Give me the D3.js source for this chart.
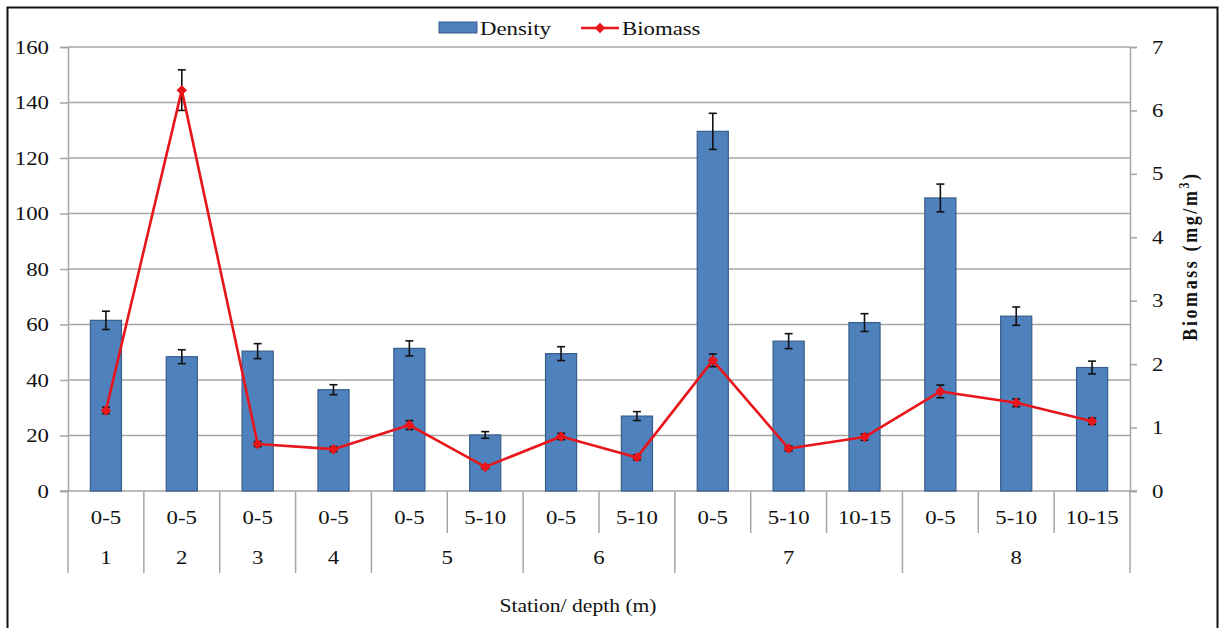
<!DOCTYPE html>
<html>
<head>
<meta charset="utf-8">
<script src="https://cdn.jsdelivr.net/npm/d3@7"></script>
<style>
  html, body { margin: 0; padding: 0; background: #fff; }
  #chart text { font-family: "Liberation Serif", Tinos, "Times New Roman", Times, serif !important; fill: #111; }
</style>
</head>
<body>
<svg id="chart" width="1219" height="628"></svg>
<script>
// Zooplankton density and biomass by station and depth layer
const stations = ["1", "2", "3", "4", "5", "5", "6", "6", "7", "7", "7", "8", "8", "8"];
const depths   = ["0-5", "0-5", "0-5", "0-5", "0-5", "5-10", "0-5", "5-10", "0-5", "5-10", "10-15", "0-5", "5-10", "10-15"];
const density    = [61.5, 48.4, 50.4, 36.5, 51.4, 20.2, 49.5, 27.0, 129.6, 54.0, 60.7, 105.6, 63.0, 44.5];
const densityErr = [3.3, 2.5, 2.7, 1.8, 2.7, 1.2, 2.5, 1.6, 6.5, 2.7, 3.2, 5.0, 3.3, 2.3];
const biomass    = [1.27, 6.32, 0.74, 0.66, 1.04, 0.38, 0.86, 0.53, 2.06, 0.67, 0.85, 1.57, 1.39, 1.10];
const biomassErr = [0.05, 0.32, 0.04, 0.04, 0.07, 0.03, 0.05, 0.04, 0.10, 0.04, 0.05, 0.10, 0.06, 0.05];
const leftTicks  = [0, 20, 40, 60, 80, 100, 120, 140, 160];
const rightTicks = [0, 1, 2, 3, 4, 5, 6, 7];

const svg = d3.select("#chart");
const serif = "'Liberation Serif', Tinos, 'Times New Roman', Times, serif";
const sx = 1.2;   // glyphs are drawn slightly wide
const fs = 19;
const plot = { left: 68, right: 1130, top: 47, bottom: 491 };

const idx = d3.range(density.length);
const x = d3.scaleBand().domain(idx).range([plot.left, plot.right]).paddingInner(0).paddingOuter(0);
const yL = d3.scaleLinear().domain([0, 160]).range([plot.bottom, plot.top]);
const yR = d3.scaleLinear().domain([0, 7]).range([plot.bottom, plot.top]);

const gridColor = "#a6a6a6";
const barFill = "#4f81bd";
const barStroke = "#385d8a";
const red = "#e8151b";

// place a wide-set label at (px, py)
function label(parent, px, py, str, anchor = "start", size = fs) {
  return parent.append("text")
    .attr("transform", `translate(${px},${py}) scale(${sx},1)`)
    .attr("text-anchor", anchor).attr("font-size", size).attr("font-family", serif)
    .text(str);
}

// outer frame
svg.append("path")
  .attr("d", "M7.5,640 V7.5 H1217.5 V640")
  .attr("fill", "none").attr("stroke", "#111").attr("stroke-width", 2);

// horizontal gridlines
svg.append("g").selectAll("line").data(leftTicks.filter(d => d > 0)).join("line")
  .attr("x1", plot.left).attr("x2", plot.right)
  .attr("y1", d => yL(d)).attr("y2", d => yL(d))
  .attr("stroke", gridColor).attr("stroke-width", 1.5);

// left axis
const axL = svg.append("g").attr("transform", `translate(${plot.left},0)`)
  .call(d3.axisLeft(yL).tickValues(leftTicks).tickSize(8).tickPadding(19));
axL.attr("font-family", serif);
axL.select(".domain").attr("stroke", gridColor).attr("stroke-width", 1.5);
axL.selectAll(".tick line").attr("stroke", gridColor).attr("stroke-width", 1.5);
axL.selectAll(".tick text").attr("font-size", fs).attr("fill", "#111")
  .attr("x", -19 / sx).attr("transform", `scale(${sx},1)`);

// right axis
const axR = svg.append("g").attr("transform", `translate(${plot.right},0)`)
  .call(d3.axisRight(yR).tickValues(rightTicks).tickFormat(d3.format("d")).tickSize(7).tickPadding(21));
axR.attr("font-family", serif);
axR.select(".domain").attr("stroke", gridColor).attr("stroke-width", 1.5);
axR.selectAll(".tick line").attr("stroke", gridColor).attr("stroke-width", 1.5);
axR.selectAll(".tick text").attr("font-size", fs).attr("fill", "#111")
  .attr("x", 22 / sx).attr("transform", `scale(${sx},1)`);

// category axis: baseline, depth separators and station separators
svg.append("line")
  .attr("x1", plot.left - 8).attr("x2", plot.right + 7)
  .attr("y1", plot.bottom).attr("y2", plot.bottom)
  .attr("stroke", gridColor).attr("stroke-width", 1.5);

const boundaries = d3.range(density.length + 1);
const boundaryX = i => i < density.length ? x(i) : x(density.length - 1) + x.bandwidth();
const isStationEdge = i => i === 0 || i === density.length || stations[i] !== stations[i - 1];
svg.append("g").selectAll("line").data(boundaries).join("line")
  .attr("x1", i => boundaryX(i)).attr("x2", i => boundaryX(i))
  .attr("y1", plot.bottom)
  .attr("y2", i => isStationEdge(i) ? 573 : 533)
  .attr("stroke", gridColor).attr("stroke-width", 1.5);

const texts = svg.append("g");

// depth labels
idx.forEach(i => label(texts, x(i) + x.bandwidth() / 2, 524, depths[i], "middle"));

// station labels centred over their depth groups
d3.groups(idx, i => stations[i]).forEach(([s, g]) => {
  label(texts, (x(g[0]) + x(g[g.length - 1]) + x.bandwidth()) / 2, 564, s, "middle");
});

// axis titles
label(texts, 578, 612, "Station/  depth (m)", "middle", 18);

const rt = texts.append("text")
  .attr("transform", "translate(1197,256) rotate(-90) scale(1,1.2)")
  .attr("text-anchor", "middle").attr("font-size", 18).attr("font-weight", "bold")
  .attr("font-family", serif).attr("letter-spacing", 2.6);
rt.append("tspan").text("Biomass (mg/m");
rt.append("tspan").attr("baseline-shift", "super").attr("font-size", 12).text("3");
rt.append("tspan").text(")");

// density bars
const barW = x.bandwidth() * 0.41;
svg.append("g").selectAll("rect").data(idx).join("rect")
  .attr("x", i => x(i) + (x.bandwidth() - barW) / 2)
  .attr("y", i => yL(density[i]))
  .attr("width", barW)
  .attr("height", i => yL(0) - yL(density[i]))
  .attr("fill", barFill).attr("stroke", barStroke).attr("stroke-width", 1.2);

// error bars helper
function errorBars(vals, errs, scale) {
  const g = svg.append("g").attr("stroke", "#111").attr("stroke-width", 1.6);
  idx.forEach(i => {
    const cx = x(i) + x.bandwidth() / 2;
    const y1 = scale(vals[i] + errs[i]), y2 = scale(vals[i] - errs[i]);
    g.append("line").attr("x1", cx).attr("x2", cx).attr("y1", y1).attr("y2", y2);
    g.append("line").attr("x1", cx - 4).attr("x2", cx + 4).attr("y1", y1).attr("y2", y1);
    g.append("line").attr("x1", cx - 4).attr("x2", cx + 4).attr("y1", y2).attr("y2", y2);
  });
}
errorBars(density, densityErr, yL);
errorBars(biomass, biomassErr, yR);

// biomass line with diamond markers
const line = d3.line().x(i => x(i) + x.bandwidth() / 2).y(i => yR(biomass[i]));
svg.append("path").datum(idx).attr("d", line)
  .attr("fill", "none").attr("stroke", red).attr("stroke-width", 2.6).attr("stroke-linejoin", "round");
const diamond = d3.symbol().type(d3.symbolDiamond2).size(70);
svg.append("g").selectAll("path").data(idx).join("path")
  .attr("transform", i => `translate(${x(i) + x.bandwidth() / 2},${yR(biomass[i])})`)
  .attr("d", diamond).attr("fill", red);

// legend
const lg = svg.append("g");
lg.append("rect").attr("x", 439).attr("y", 22).attr("width", 38).attr("height", 11)
  .attr("fill", barFill).attr("stroke", barStroke).attr("stroke-width", 1);
label(lg, 480, 35, "Density");
lg.append("line").attr("x1", 581).attr("x2", 619).attr("y1", 28).attr("y2", 28)
  .attr("stroke", red).attr("stroke-width", 2.6);
lg.append("path").attr("transform", "translate(600,28)").attr("d", diamond).attr("fill", red);
label(lg, 622, 35, "Biomass");
</script>
</body>
</html>
